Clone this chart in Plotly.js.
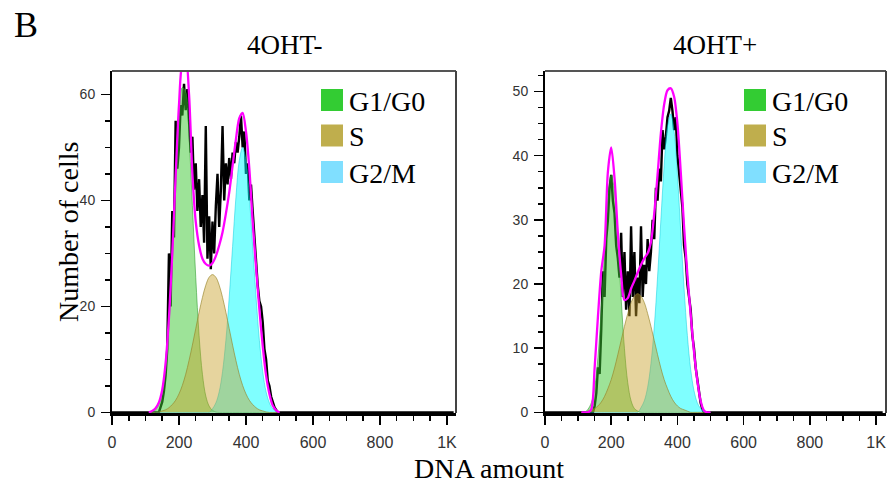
<!DOCTYPE html>
<html>
<head>
<meta charset="utf-8">
<script src="https://cdn.plot.ly/plotly-3.0.1.min.js"></script>
<style>html,body{margin:0;padding:0;background:#fff}#chart{width:888px;height:486px}</style>
</head>
<body>
<div id="chart"></div>
<script>
// ---------- data ----------
const panelTitles = ['4OHT-', '4OHT+'];
const phaseNames = ['G1/G0', 'S', 'G2/M'];
const xTickVals = [0, 200, 400, 600, 800, 1000];
const xTickText = ['0', '200', '400', '600', '800', '1K'];
const yTickValsMinus = [0, 20, 40, 60];
const yTickValsPlus = [0, 10, 20, 30, 40, 50];

// fitted-model sample positions (DNA amount channel)
const fitX = [110,120,130,140,150,160,170,180,190,200,210,220,230,240,250,260,270,280,290,300,
              310,320,330,340,350,360,370,380,390,400,410,420,430,440,450,460,470,480,490,500];
// raw histogram channels
const rawX = [0,140,145,150,155,160,165,170,175,180,185,190,195,200,205,210,215,220,225,230,235,240,
              245,250,255,260,265,270,275,280,285,290,295,300,305,310,315,320,325,330,335,340,345,
              350,355,360,365,370,375,380,385,390,395,400,405,410,415,420,425,430,435,440,445,450,
              455,460,465,470,475,480,485,490,495,500,1020];

// 4OHT-
const g1Minus = [0,0.1,0.5,1.5,3.7,8.4,16.4,28,41.8,54.2,61.3,60.5,52,39,25.5,14.5,7.2,3.1,1.2,0.4,
                 0.1,0,0,0,0,0,0,0,0,0,0,0,0,0,0,0,0,0,0,0];
const sMinus  = [0,0,0,0.1,0.3,0.5,0.9,1.5,2.3,3.5,5.1,7.2,9.8,12.7,15.8,18.9,21.7,24,25.5,26,
                 25.5,24,21.7,18.9,15.8,12.7,9.8,7.2,5.1,3.5,2.3,1.5,0.9,0.5,0.3,0.1,0,0,0,0];
const g2Minus = [0,0,0,0,0,0,0,0,0,0,0,0,0,0,0,0,0,0,0,0.7,
                 1.8,3.9,7.7,13.6,21.8,31.3,40.6,47.5,50,47.5,40.6,31.3,21.8,13.6,7.7,3.9,1.8,0.7,0.25,0];
const fitMinus = [0,0.3,0.8,1.9,4.3,9.3,17.8,30,44.6,58,66,67,60,45,36,31.5,29,28,27.7,28.2,
                  29.5,31.5,34,37.5,41.5,46.5,51.5,55.5,56.5,53,46,36,27.5,19.5,12.5,7,3.5,1.3,0.4,0];
const rawMinus = [0,0,1,2,4,7,12,30,20,38,33,55,46,50,58,56,62,57,61,55,49,52,
                  42,47,38,44,35,41,32,54,29,37,27,36,30,39,45,35,42,54,40,47,43,
                  48,44,49,47,51,49,52,56,50,53,45,47,40,43,38,33,29,24,21,20,17,
                  12,10,6,5,3,2,1,0.5,0,0,0];

// 4OHT+
const g1Plus = [0,0,0.5,1.5,3.9,8.6,16.1,25.2,33.3,37,34.5,27,17.8,9.9,4.6,1.8,0.6,0.2,0,0,
                0,0,0,0,0,0,0,0,0,0,0,0,0,0,0,0,0,0,0,0];
const sPlus  = [0,0,0.2,0.4,0.6,1.0,1.6,2.5,3.7,5.1,6.9,9.0,11.2,13.4,15.4,17.1,18.1,18.5,18.1,17.1,
                15.4,13.4,11.2,9.0,6.9,5.1,3.7,2.5,1.6,1.0,0.6,0.4,0.2,0,0,0,0,0,0,0];
const g2Plus = [0,0,0,0,0,0,0,0,0,0,0,0,0,0,0,0,0,0,0.75,1.8,
                3.9,7.6,13.3,21.1,30,38.5,44.6,46.5,43.7,37,28.2,19.4,12,6.7,3.4,1.5,0.6,0.2,0,0];
const fitPlus = [0,0,0,0.5,7,15,22,26,37.5,41.3,36.5,28,21.5,17.5,17.8,19.3,20.5,21.8,23,24,
                 24.8,26.5,31,37,43.5,48,50.2,50.5,49.2,45,37.5,29,21.5,15.3,9.5,5,1.8,0.3,0,0];
const rawPlus = [0,0,0,1,3,7,6,13,22,18,27,30,35,37,33,31,26,24,21,28,18,25,
                 16,22,15,29,18,25,15,21,17,29,18,23,20,27,22,25,30,27,35,33,38,
                 36,44,41,43,46,47,49,47,44,46,40,37,34,32,26,24,20,18,16,12,10,
                 7,5,3,1.5,0.5,0,0,0,0,0,0];

// ---------- styles ----------
const phaseFill = ['rgba(60,200,50,0.5)', 'rgba(200,160,40,0.45)', 'rgba(0,255,255,0.5)'];
const phaseEdge = ['rgba(40,150,40,0.7)', 'rgba(150,130,40,0.8)', 'rgba(0,200,220,0.6)'];
const phaseSwatch = ['#33cc33', '#bfae4d', '#80dfff'];
const serif = '"Liberation Serif", "Times New Roman", Times, serif';
const sans = '"Liberation Sans", Arial, sans-serif';

function panelTraces(xa, ya, raw, g1, s, g2, fit) {
  const out = [];
  out.push({x: rawX, y: raw, xaxis: xa, yaxis: ya, type: 'scatter', mode: 'lines',
            line: {color: '#000', width: 2.4}, hoverinfo: 'skip'});
  const comps = [[g1, 0], [g2, 2], [s, 1]];
  comps.forEach(([vals, i]) => {
    out.push({x: fitX, y: vals, xaxis: xa, yaxis: ya, type: 'scatter', mode: 'lines',
              name: phaseNames[i], fill: 'tozeroy', fillcolor: phaseFill[i],
              line: {color: phaseEdge[i], width: 0.8, shape: 'spline', smoothing: 1}, hoverinfo: 'skip'});
  });
  out.push({x: fitX, y: fit, xaxis: xa, yaxis: ya, type: 'scatter', mode: 'lines',
            line: {color: '#ff00ff', width: 2.3, shape: 'spline', smoothing: 0.8}, hoverinfo: 'skip'});
  return out;
}

const data = [].concat(
  panelTraces('x', 'y', rawMinus, g1Minus, sMinus, g2Minus, fitMinus),
  panelTraces('x2', 'y2', rawPlus, g1Plus, sPlus, g2Plus, fitPlus)
);

const W = 888, H = 486;
const px = v => v / W, py = v => 1 - v / H;
const yDom = [py(413), py(71)];

function xAxis(dom, maxX) {
  return {
    domain: dom, range: [0, maxX], showgrid: false, zeroline: false,
    showline: true, linecolor: '#000', linewidth: 2.5,
    ticks: 'outside', tickmode: 'array', tickvals: xTickVals, ticktext: xTickText,
    ticklen: 9, tickwidth: 1.5, tickcolor: '#000',
    minor: {ticks: 'outside', tickmode: 'linear', tick0: 0, dtick: 50, ticklen: 5, tickwidth: 1.5, tickcolor: '#000', showgrid: false},
    tickfont: {family: sans, size: 16, color: '#333'}, ticklabelstandoff: 4,
    ticklabeloverflow: 'allow', fixedrange: true
  };
}
function yAxis(anchor, maxY, vals, minorStep) {
  return {
    domain: yDom, anchor: anchor, range: [-0.1, maxY], showgrid: false, zeroline: false,
    showline: true, linecolor: '#000', linewidth: 2,
    ticks: 'outside', tickmode: 'array', tickvals: vals, ticklen: 9, tickwidth: 1.5, tickcolor: '#000',
    minor: {ticks: 'outside', tickmode: 'linear', tick0: 0, dtick: minorStep, ticklen: 5, tickwidth: 1.5, tickcolor: '#000', showgrid: false},
    tickfont: {family: sans, size: 14, color: '#333'}, ticklabelstandoff: 3, fixedrange: true
  };
}

const shapes = [];
[['x', 'y'], ['x2', 'y2']].forEach(([xa, ya]) => {
  shapes.push({type: 'line', xref: xa + ' domain', yref: ya + ' domain', x0: 0, x1: 1, y0: 1, y1: 1, line: {color: '#555', width: 2}});
  shapes.push({type: 'line', xref: xa + ' domain', yref: ya + ' domain', x0: 1, x1: 1, y0: 0, y1: 1, line: {color: '#444', width: 2}});
});

const annotations = [
  {text: 'B', x: px(12), y: py(25), xref: 'paper', yref: 'paper', xanchor: 'left', yanchor: 'middle', showarrow: false, font: {family: serif, size: 36, color: '#000'}},
  {text: panelTitles[0], x: px(285), y: py(45), xref: 'paper', yref: 'paper', xanchor: 'center', yanchor: 'middle', showarrow: false, font: {family: serif, size: 27, color: '#000'}},
  {text: panelTitles[1], x: px(715), y: py(45), xref: 'paper', yref: 'paper', xanchor: 'center', yanchor: 'middle', showarrow: false, font: {family: serif, size: 27, color: '#000'}},
  {text: 'DNA amount', x: px(489), y: py(468), xref: 'paper', yref: 'paper', xanchor: 'center', yanchor: 'middle', showarrow: false, font: {family: serif, size: 28, color: '#000'}},
  {text: 'Number of cells', x: px(68), y: py(232), xref: 'paper', yref: 'paper', xanchor: 'center', yanchor: 'middle', textangle: -90, showarrow: false, font: {family: serif, size: 28, color: '#000'}}
];

// legends (one per panel)
const legendLeft = [321, 744];
const rowCenters = [100, 135.5, 172];
legendLeft.forEach(lx => {
  phaseNames.forEach((name, i) => {
    const cy = rowCenters[i];
    shapes.push({type: 'rect', xref: 'paper', yref: 'paper', x0: px(lx), x1: px(lx + 22), y0: py(cy + 11), y1: py(cy - 11),
                 fillcolor: phaseSwatch[i], line: {width: 0}});
    annotations.push({text: name, x: px(lx + 26), y: py(cy + 1), xref: 'paper', yref: 'paper', xanchor: 'left', yanchor: 'middle',
                      showarrow: false, font: {family: serif, size: 28, color: '#000'}});
  });
});

const layout = {
  width: W, height: H, margin: {l: 0, r: 0, t: 0, b: 0},
  paper_bgcolor: '#fff', plot_bgcolor: '#fff', showlegend: false,
  xaxis: xAxis([px(112), px(456)], 1027),
  yaxis: yAxis('x', 64.4, yTickValsMinus, 5),
  xaxis2: Object.assign(xAxis([px(545), px(886)], 1030), {anchor: 'y2'}),
  yaxis2: yAxis('x2', 53.2, yTickValsPlus, 2.5),
  shapes: shapes, annotations: annotations
};
layout.xaxis.anchor = 'y';

Plotly.newPlot('chart', data, layout, {staticPlot: true, displayModeBar: false});
</script>
</body>
</html>
